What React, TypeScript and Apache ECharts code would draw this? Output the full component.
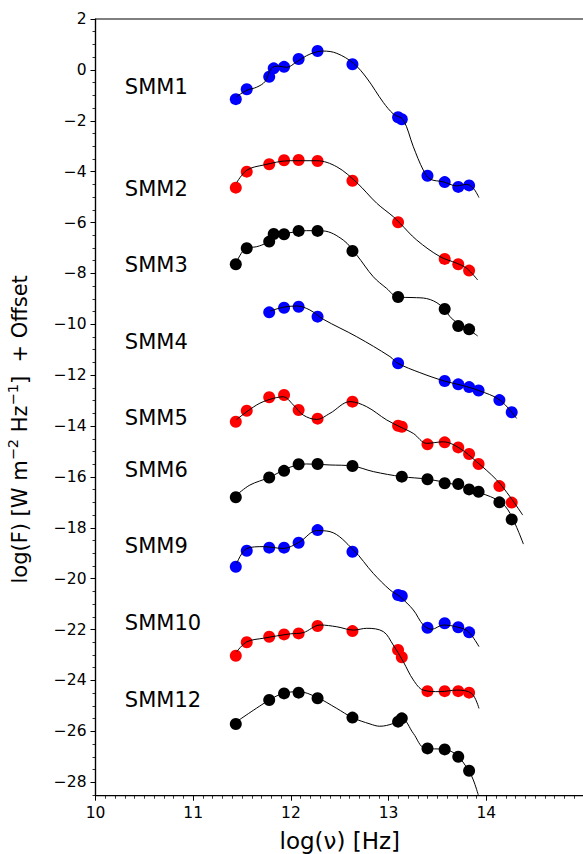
import React, { useEffect, useRef } from "react";
import * as echarts from "echarts";

// ---------- data ----------
const sedNames = ["SMM1", "SMM2", "SMM3", "SMM4", "SMM5", "SMM6", "SMM9", "SMM10", "SMM12"];
const sedColors = ["#0000ff", "#ff0000", "#000000", "#0000ff", "#ff0000", "#000000", "#0000ff", "#ff0000", "#000000"];
const labelX = 10.3;
const labelY = [-0.67, -4.7, -7.67, -10.68, -13.68, -15.72, -18.72, -21.74, -24.76];

const smm1X = [11.436, 11.548, 11.778, 11.824, 11.93, 12.079, 12.273, 12.63, 13.097, 13.135, 13.398, 13.574, 13.713, 13.824];
const smm1Y = [-1.15, -0.76, -0.27, 0.06, 0.12, 0.43, 0.74, 0.22, -1.86, -1.94, -4.16, -4.41, -4.6, -4.54];
const smm2X = [11.436, 11.548, 11.778, 11.93, 12.079, 12.273, 12.63, 13.097, 13.574, 13.713, 13.824];
const smm2Y = [-4.63, -4.0, -3.71, -3.55, -3.54, -3.58, -4.36, -5.99, -7.43, -7.64, -7.89];
const smm3X = [11.436, 11.548, 11.778, 11.824, 11.93, 12.079, 12.273, 12.63, 13.097, 13.574, 13.713, 13.824];
const smm3Y = [-7.64, -7.01, -6.75, -6.45, -6.46, -6.33, -6.33, -7.12, -8.93, -9.4, -10.07, -10.2];
const smm4X = [11.778, 11.93, 12.079, 12.273, 13.097, 13.574, 13.713, 13.824, 13.921, 14.134, 14.26];
const smm4Y = [-9.53, -9.35, -9.31, -9.7, -11.53, -12.23, -12.36, -12.47, -12.6, -12.98, -13.46];
const smm5X = [11.436, 11.548, 11.778, 11.93, 12.079, 12.273, 12.63, 13.097, 13.135, 13.398, 13.574, 13.713, 13.824, 13.921, 14.134, 14.26];
const smm5Y = [-13.83, -13.4, -12.87, -12.78, -13.37, -13.71, -13.04, -13.99, -14.03, -14.72, -14.64, -14.84, -15.1, -15.49, -16.36, -17.01];
const smm6X = [11.436, 11.778, 11.93, 12.079, 12.273, 12.63, 13.135, 13.398, 13.574, 13.713, 13.824, 13.921, 14.134, 14.26];
const smm6Y = [-16.8, -16.02, -15.76, -15.5, -15.49, -15.57, -15.99, -16.09, -16.25, -16.28, -16.49, -16.58, -17.0, -17.67];
const smm9X = [11.436, 11.548, 11.778, 11.93, 12.079, 12.273, 12.63, 13.097, 13.135, 13.398, 13.574, 13.713, 13.824];
const smm9Y = [-19.53, -18.9, -18.78, -18.78, -18.59, -18.09, -18.94, -20.64, -20.68, -21.93, -21.75, -21.91, -22.11];
const smm10X = [11.436, 11.548, 11.778, 11.93, 12.079, 12.273, 12.63, 13.097, 13.135, 13.398, 13.574, 13.713, 13.824];
const smm10Y = [-23.03, -22.5, -22.28, -22.19, -22.15, -21.86, -22.06, -22.8, -23.09, -24.42, -24.42, -24.42, -24.48];
const smm12X = [11.436, 11.778, 11.93, 12.079, 12.273, 12.63, 13.097, 13.135, 13.398, 13.574, 13.713, 13.824];
const smm12Y = [-25.71, -24.77, -24.51, -24.48, -24.7, -25.46, -25.62, -25.49, -26.67, -26.71, -27.0, -27.55];

// model fits
const smm1Fit = [[11.445, -1.05], [11.55, -0.8], [11.65, -0.68], [11.735, -0.46], [11.8, 0.06], [11.868, 0.15], [11.957, 0.1], [12.06, 0.32], [12.195, 0.62], [12.33, 0.74], [12.47, 0.65], [12.64, 0.26], [12.776, -0.32], [12.946, -1.28], [13.048, -1.73], [13.15, -1.97], [13.253, -3.02], [13.355, -3.94], [13.424, -4.29], [13.56, -4.4], [13.697, -4.56], [13.8, -4.5], [13.867, -4.65], [13.925, -5.02]];
const smm2Fit = [[11.445, -4.43], [11.55, -3.94], [11.72, -3.74], [11.99, -3.57], [12.264, -3.57], [12.47, -3.81], [12.674, -4.43], [12.878, -5.24], [13.048, -5.77], [13.117, -6.03], [13.288, -6.69], [13.526, -7.34], [13.697, -7.6], [13.8, -7.8], [13.912, -8.26]];
const smm3Fit = [[11.445, -7.54], [11.54, -7.01], [11.65, -6.95], [11.752, -6.79], [11.837, -6.49], [11.99, -6.4], [12.16, -6.32], [12.33, -6.33], [12.536, -6.69], [12.674, -7.28], [12.843, -8.13], [12.98, -8.59], [13.093, -8.93], [13.25, -8.95], [13.39, -8.99], [13.526, -9.24], [13.662, -9.83], [13.8, -10.16], [13.912, -10.46]];
const smm4Fit = [[11.786, -9.48], [11.922, -9.33], [12.06, -9.28], [12.195, -9.44], [12.33, -9.8], [12.674, -10.49], [13.014, -11.27], [13.093, -11.53], [13.32, -11.9], [13.57, -12.23], [13.75, -12.4], [13.921, -12.6], [14.14, -12.98], [14.31, -13.7]];
const smm5Fit = [[11.445, -13.74], [11.65, -13.17], [11.786, -12.95], [11.922, -12.85], [12.025, -13.17], [12.127, -13.57], [12.264, -13.74], [12.4, -13.5], [12.605, -13.04], [12.776, -13.24], [12.98, -13.76], [13.117, -14.03], [13.253, -14.29], [13.39, -14.68], [13.56, -14.62], [13.73, -14.88], [13.9, -15.4], [14.106, -16.12], [14.243, -16.78], [14.373, -17.5]];
const smm6Fit = [[11.445, -16.71], [11.58, -16.32], [11.778, -16.02], [11.99, -15.62], [12.16, -15.49], [12.4, -15.53], [12.63, -15.57], [12.843, -15.79], [13.135, -15.99], [13.4, -16.09], [13.697, -16.32], [13.935, -16.62], [14.14, -16.97], [14.243, -17.43], [14.38, -18.64]];
const smm9Fit = [[11.445, -19.4], [11.55, -18.81], [11.72, -18.74], [11.92, -18.81], [12.09, -18.55], [12.264, -18.11], [12.4, -18.15], [12.64, -18.87], [12.843, -19.79], [13.014, -20.44], [13.117, -20.71], [13.253, -21.23], [13.355, -21.82], [13.44, -21.99], [13.56, -21.82], [13.713, -21.91], [13.816, -22.08], [13.925, -22.67]];
const smm10Fit = [[11.445, -22.87], [11.55, -22.48], [11.72, -22.34], [11.99, -22.17], [12.127, -22.12], [12.3, -21.82], [12.47, -21.89], [12.64, -22.02], [12.776, -21.95], [12.946, -22.08], [13.048, -22.61], [13.15, -23.26], [13.253, -23.98], [13.355, -24.38], [13.526, -24.44], [13.697, -24.38], [13.85, -24.51], [13.925, -25.1]];
const smm12Fit = [[11.445, -25.62], [11.778, -24.77], [11.922, -24.51], [12.079, -24.44], [12.264, -24.66], [12.47, -25.1], [12.63, -25.46], [12.81, -25.71], [12.91, -25.8], [13.048, -25.69], [13.135, -25.49], [13.253, -26.08], [13.373, -26.67], [13.574, -26.71], [13.697, -26.93], [13.816, -27.52], [13.867, -27.91], [13.918, -28.5]];

const yTicks = [-28, -26, -24, -22, -20, -18, -16, -14, -12, -10, -8, -6, -4, -2, 0, 2];

const sedX = [smm1X, smm2X, smm3X, smm4X, smm5X, smm6X, smm9X, smm10X, smm12X];
const sedY = [smm1Y, smm2Y, smm3Y, smm4Y, smm5Y, smm6Y, smm9Y, smm10Y, smm12Y];
const sedFit = [smm1Fit, smm2Fit, smm3Fit, smm4Fit, smm5Fit, smm6Fit, smm9Fit, smm10Fit, smm12Fit];

const FONT = "DejaVu Sans";
const Y_MIN = -28.53;
const Y_MAX = 2;

function fmt(v: number): string {
  return v < 0 ? "\u2212" + Math.abs(v) : String(v);
}

export default function App() {
  const ref = useRef<HTMLDivElement>(null);
  useEffect(() => {
    if (!ref.current) return;
    const chart = echarts.init(ref.current, null, { renderer: "svg" });
    const minorY: number[] = [];
    for (let v = -28.5; v <= 2.001; v += 0.5) {
      if (Math.abs(v % 2) > 0.01) minorY.push(Math.round(v * 10) / 10);
    }
    const series: any[] = [];
    sedNames.forEach((name, i) => {
      series.push({
        type: "scatter",
        name,
        data: sedX[i].map((x, j) => [x, sedY[i][j]]),
        symbol: "circle",
        symbolSize: 12,
        itemStyle: { color: sedColors[i], opacity: 1 },
        z: 2,
        silent: true,
      });
      series.push({
        type: "line",
        name: name + " fit",
        data: sedFit[i],
        smooth: 0.35,
        showSymbol: false,
        symbol: "none",
        lineStyle: { color: "#000000", width: 1 },
        z: 3,
        silent: true,
      });
    });
    series.push({
      type: "scatter",
      name: "labels",
      data: labelY.map((y, i) => ({ value: [labelX, y], name: sedNames[i] })),
      symbolSize: 0,
      silent: true,
      label: {
        show: true,
        formatter: (p: any) => p.name,
        position: [0, 0],
        align: "left",
        verticalAlign: "middle",
        fontFamily: FONT,
        fontSize: 21,
        color: "#000000",
        opacity: 1,
      },
      z: 4,
    });

    chart.setOption({
      animation: false,
      backgroundColor: "#ffffff",
      grid: {
        left: 95.5,
        top: 19,
        width: 488.5,
        height: 776.7,
        containLabel: false,
        outerBoundsMode: "none",
        show: true,
        borderColor: "#000000",
        borderWidth: 1.2,
        backgroundColor: "transparent",
      },
      xAxis: {
        type: "value",
        min: 10,
        max: 15,
        interval: 1,
        name: "log(\u03bd) [Hz]",
        nameLocation: "middle",
        nameGap: 34,
        nameTextStyle: { fontFamily: FONT, fontSize: 23, color: "#000000" },
        axisLine: { show: true, onZero: false, lineStyle: { color: "#000000", width: 1.2 } },
        axisTick: { show: true, length: 5, lineStyle: { color: "#000000", width: 1 } },
        minorTick: { show: true, splitNumber: 10, length: 3, lineStyle: { color: "#000000", width: 0.8 } },
        splitLine: { show: false },
        minorSplitLine: { show: false },
        axisLabel: {
          fontFamily: FONT,
          fontSize: 15.5,
          color: "#000000",
          margin: 9,
          formatter: (v: number) => (v >= 15 ? "" : fmt(v)),
        },
      },
      yAxis: [
        {
          type: "value",
          min: Y_MIN,
          max: Y_MAX,
          name: "log(F) [W m{sup|\u22122} Hz{sup|\u22121}]  + Offset",
          nameLocation: "middle",
          nameGap: 62,
          nameTextStyle: {
            fontFamily: FONT,
            fontSize: 21,
            color: "#000000",
            lineHeight: 28,
            padding: [0, 44, 0, 0],
            rich: {
              sup: { fontFamily: FONT, fontSize: 14.5, color: "#000000", verticalAlign: "top", lineHeight: 14 },
            },
          },
          axisLine: { show: true, onZero: false, lineStyle: { color: "#000000", width: 1.2 } },
          axisTick: { show: true, length: 5, customValues: yTicks, lineStyle: { color: "#000000", width: 1 } },
          splitLine: { show: false },
          axisLabel: {
            fontFamily: FONT,
            fontSize: 15.5,
            color: "#000000",
            margin: 9,
            customValues: yTicks,
            formatter: (v: number) => fmt(v),
          },
        },
        {
          type: "value",
          min: Y_MIN,
          max: Y_MAX,
          position: "left",
          axisLine: { show: false },
          axisTick: { show: true, length: 3, customValues: minorY, lineStyle: { color: "#000000", width: 0.8 } },
          axisLabel: { show: false, customValues: minorY },
          splitLine: { show: false },
        },
      ],
      series,
    });
    return () => chart.dispose();
  }, []);
  return (
    <div
      ref={ref}
      style={{ position: "absolute", left: 0, top: 0, width: 583, height: 854, background: "#ffffff" }}
    />
  );
}
